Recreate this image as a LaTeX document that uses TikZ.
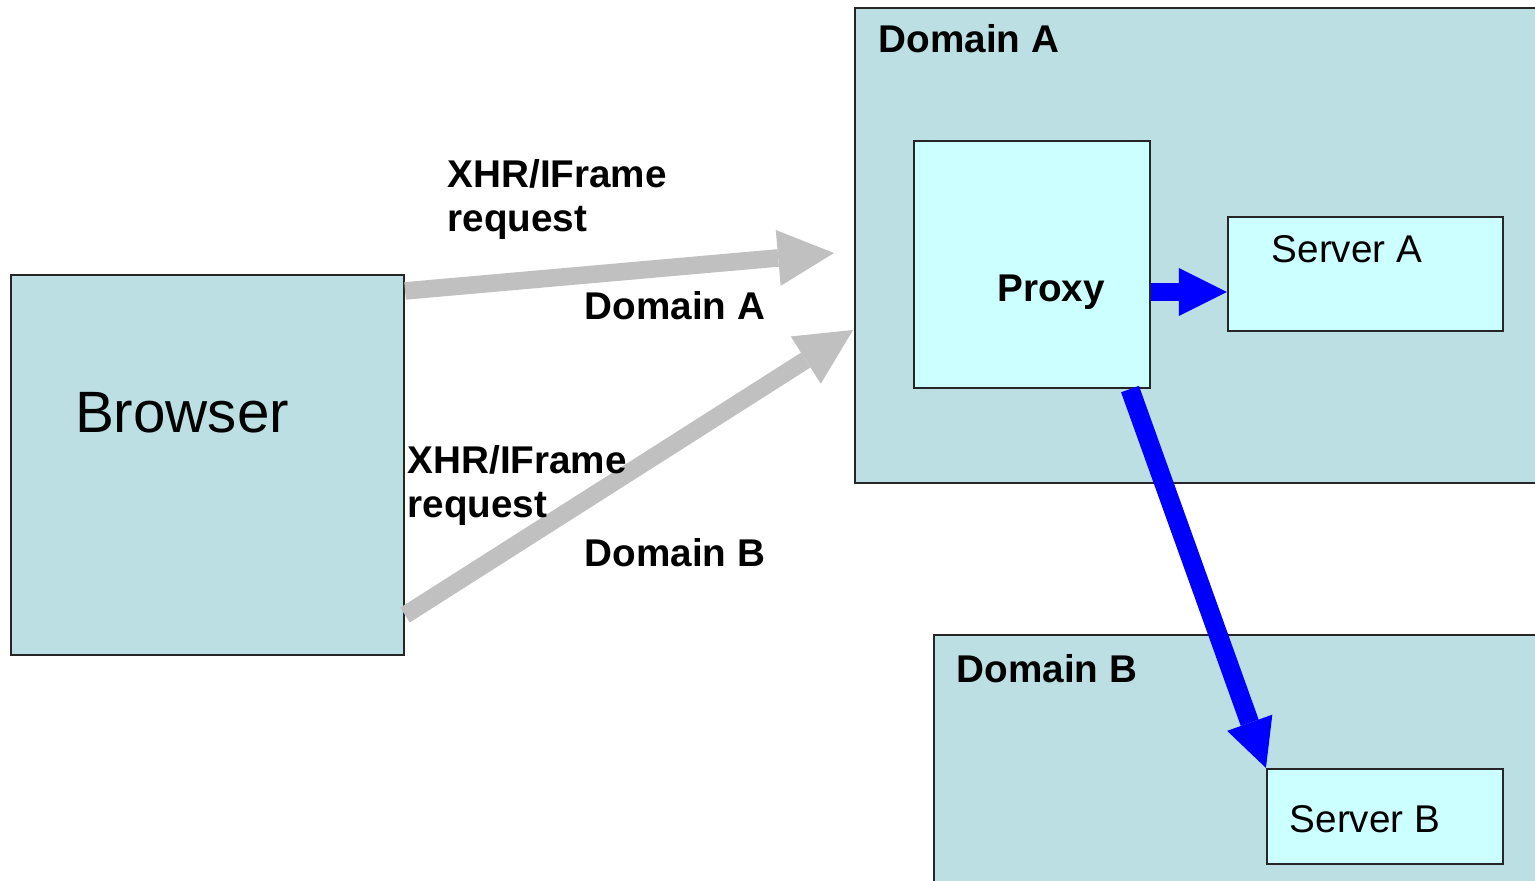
\documentclass[tikz,border=0pt]{standalone}
\usepackage{fontspec}
\setmainfont{Liberation Sans}
\usetikzlibrary{arrows.meta}
\definecolor{domfill}{HTML}{BBDFE2}
\definecolor{boxfill}{HTML}{CCFFFF}
\definecolor{reqgray}{HTML}{C0C0C0}

\begin{document}
\begin{tikzpicture}[
	plainbox/.style={draw=black!85, line width=0.6pt, rectangle, inner sep=0pt},
	domainbox/.style={plainbox, fill=domfill},
	innerbox/.style={plainbox, fill=boxfill},
	boldlbl/.style={font=\fontsize{11}{12.6}\selectfont\bfseries, inner sep=0pt},
	plainlbl/.style={font=\fontsize{11}{12.6}\selectfont, inner sep=0pt},
	reqarrow/.style={line width=5pt, draw=reqgray, -{Triangle[length=5.6mm,width=5.6mm,line width=0pt]}},
	fwdarrow/.style={line width=5pt, draw=blue, -{Triangle[length=4.8mm,width=4.8mm,line width=0pt]}}
]
	\clip (0,0) rectangle (15.35,-8.81);
	
	%browser
	\node[domainbox, minimum width=3.93cm, minimum height=3.80cm] (browser) at (2.075,-4.65) {};
	\node[inner sep=0pt, font=\fontsize{16.6}{19}\selectfont, anchor=base] (browserlbl) at (1.82,-4.33) {Browser};
	
	%domain A with proxy and server A
	\node[domainbox, minimum width=7.05cm, minimum height=4.75cm] (domA) at (12.075,-2.455) {};
	\node[boldlbl, anchor=base west] (domAlbl) at (8.78,-0.53) {Domain A};
	\node[innerbox, minimum width=2.36cm, minimum height=2.47cm] (proxy) at (10.32,-2.645) {};
	\node[boldlbl, anchor=base] (proxylbl) at (10.51,-3.02) {Proxy};
	\node[innerbox, minimum width=2.75cm, minimum height=1.14cm] (srvA) at (13.655,-2.74) {};
	\node[plainlbl, anchor=base] (srvAlbl) at (13.47,-2.63) {Server A};
	
	%domain B with server B
	\node[domainbox, minimum width=6.26cm, minimum height=2.65cm] (domB) at (12.47,-7.675) {};
	\node[boldlbl, anchor=base west] (domBlbl) at (9.56,-6.83) {Domain B};
	\node[innerbox, minimum width=2.36cm, minimum height=0.95cm] (srvB) at (13.85,-8.165) {};
	\node[plainlbl, anchor=base] (srvBlbl) at (13.65,-8.33) {Server B};
	
	%requests from the browser
	\coordinate (tipA) at (8.34,-2.53);
	\coordinate (tipB) at (8.53,-3.30);
	\draw[reqarrow] ([yshift=-1.7mm]browser.north east) -- (tipA);
	\draw[reqarrow] ([yshift=4.1mm]browser.south east) -- (tipB);
	\node[boldlbl, anchor=north west, align=left] (reqA) at (4.47,-1.59) {XHR/IFrame\\request};
	\node[boldlbl, anchor=base west] (reqAdom) at (5.84,-3.20) {Domain A};
	\node[boldlbl, anchor=north west, align=left] (reqB) at (4.07,-4.45) {XHR/IFrame\\request};
	\node[boldlbl, anchor=base west] (reqBdom) at (5.84,-5.67) {Domain B};
	
	%proxy forwarding
	\draw[fwdarrow] ([yshift=-2.75mm]proxy.east) -- ([yshift=-1.8mm]srvA.west);
	\draw[fwdarrow, line width=5.4pt] ([xshift=9.8mm]proxy.south) -- (srvB.north west);
\end{tikzpicture}
\end{document}
